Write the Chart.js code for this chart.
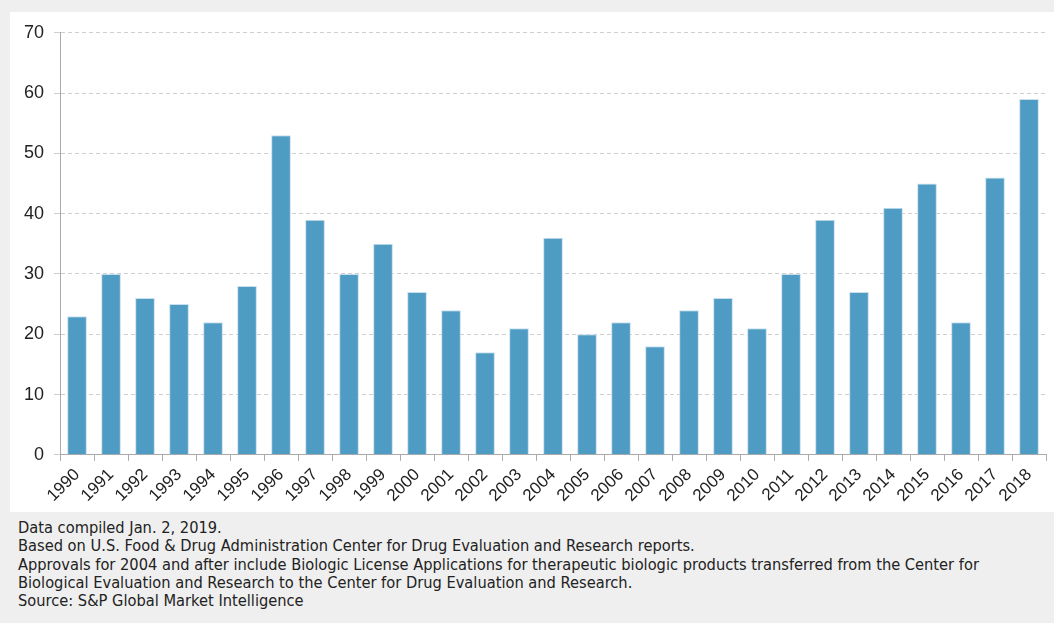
<!DOCTYPE html>
<html>
<head>
<meta charset="utf-8">
<script src="https://cdn.jsdelivr.net/npm/chart.js@4/dist/chart.umd.min.js"></script>
<style>
  html, body { margin: 0; padding: 0; background: #efefef; width: 1054px; height: 623px; overflow: hidden; }
  #panel { position: absolute; left: 10px; top: 12px; width: 1044px; height: 500px; background: #fff; }
  #notes { position: absolute; left: 18px; top: 519px; font-family: "DejaVu Sans Condensed", sans-serif; font-size: 16.3px; line-height: 18.3px; color: #222; white-space: nowrap; }
</style>
</head>
<body>
<div id="panel"><canvas id="chart"></canvas></div>
<div id="notes">
  Data compiled Jan. 2, 2019.<br>
  Based on U.S. Food &amp; Drug Administration Center for Drug Evaluation and Research reports.<br>
  Approvals for 2004 and after include Biologic License Applications for therapeutic biologic products transferred from the Center for<br>
  Biological Evaluation and Research to the Center for Drug Evaluation and Research.<br>
  Source: S&amp;P Global Market Intelligence
</div>
<script>
// FDA novel drug approvals per year
const years = ['1990', '1991', '1992', '1993', '1994', '1995', '1996', '1997', '1998', '1999',
  '2000', '2001', '2002', '2003', '2004', '2005', '2006', '2007', '2008', '2009',
  '2010', '2011', '2012', '2013', '2014', '2015', '2016', '2017', '2018']
const approvals = [23, 30, 26, 25, 22, 28, 53, 39, 30, 35,
  27, 24, 17, 21, 36, 20, 22, 18, 24, 26,
  21, 30, 39, 27, 41, 45, 22, 46, 59]
const yTicks = [0, 10, 20, 30, 40, 50, 60, 70]

const tickFont = "'Liberation Sans', Arial, sans-serif"

const ctx = document.getElementById('chart')
ctx.width = 1044
ctx.height = 500

const chart = new Chart(ctx, {
  type: 'bar',
  data: {
    labels: years,
    datasets: [{
      data: approvals,
      backgroundColor: '#4e9bc4',
      borderColor: '#c9dfec',
      borderWidth: 1,
      barPercentage: 0.58,
      categoryPercentage: 1.0
    }]
  },
  options: {
    responsive: false,
    animation: false,
    layout: { padding: { top: 14, right: 8, left: 4, bottom: 2 } },
    plugins: { legend: { display: false }, tooltip: { enabled: false } },
    scales: {
      x: {
        offset: true,
        grid: { offset: true, drawOnChartArea: false, drawTicks: true, tickLength: 6, color: '#aaa' },
        border: { color: '#aaa', width: 1 },
        ticks: {
          color: '#222',
          font: { family: tickFont, size: 17 },
          maxRotation: 45, minRotation: 45, autoSkip: false, padding: 4
        }
      },
      y: {
        min: 0, max: 70,
        afterBuildTicks: axis => { axis.ticks = yTicks.map(v => ({ value: v })) },
        grid: { color: '#cfcfcf', tickLength: 6 },
        border: { color: '#aaa', width: 1, dash: [4, 3] },
        ticks: {
          color: '#222',
          font: { family: tickFont, size: 18 },
          padding: 10
        }
      }
    }
  }
})
</script>
</body>
</html>
